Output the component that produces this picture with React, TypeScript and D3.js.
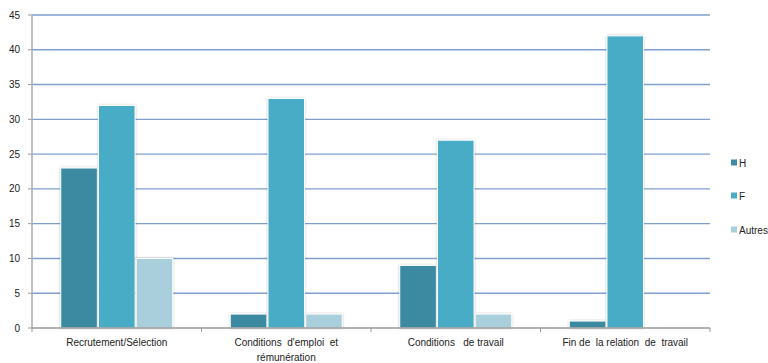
import React from "react";
import * as d3 from "d3";

const categories = [
  ["Recrutement/Sélection"],
  ["Conditions  d'emploi  et", "rémunération"],
  ["Conditions   de travail"],
  ["Fin de  la relation  de  travail"],
];
const seriesNames = ["H", "F", "Autres"];
const valuesH = [23, 2, 9, 1];
const valuesF = [32, 33, 27, 42];
const valuesAutres = [10, 2, 2, 0];
const yTicks = [0, 5, 10, 15, 20, 25, 30, 35, 40, 45];
const colors = ["#3a8aa2", "#4aacc6", "#a9cfdd"];

export default function App() {
  const W = 768, H = 363;
  const left = 32, right = 710, top = 15, bottom = 328;
  const series = [valuesH, valuesF, valuesAutres];
  const x = d3.scaleBand<number>().domain(d3.range(categories.length)).range([left, right]).paddingInner(0).paddingOuter(0);
  const bw = x.bandwidth();
  const inner = d3.scaleBand<number>().domain([0, 1, 2]).range([bw / 2 - 56, bw / 2 + 56]).paddingInner(0.03).paddingOuter(0);
  const y = d3.scaleLinear().domain([0, 45]).range([bottom, top]);
  const font = "Liberation Sans, Arial, sans-serif";
  return (
    <svg width={W} height={H} style={{ position: "absolute", left: 0, top: 0 }} fontFamily={font}>
      <defs>
        <filter id="sh" x="-20%" y="-20%" width="140%" height="140%">
          <feGaussianBlur in="SourceAlpha" stdDeviation="1.2" />
          <feOffset dx="0" dy="0" result="b" />
          <feComponentTransfer><feFuncA type="linear" slope="0.3" /></feComponentTransfer>
          <feMerge><feMergeNode /><feMergeNode in="SourceGraphic" /></feMerge>
        </filter>
      </defs>
      <rect width={W} height={H} fill="#fff" />
      {yTicks.map((t) => (
        <g key={t}>
          {t > 0 && <line x1={left} x2={right} y1={y(t)} y2={y(t)} stroke="#7f9fcf" strokeWidth={1.4} />}
          <line x1={left - 4} x2={left} y1={y(t)} y2={y(t)} stroke="#999" />
          <text x={left - 12} y={y(t)} dy="0.35em" textAnchor="end" fontSize={10} fill="#222">{t}</text>
        </g>
      ))}
      {categories.map((c, i) =>
        series.map((s, j) => {
          const v = s[i];
          if (v <= 0) return null;
          const bx = (x(i) as number) + (inner(j) as number);
          return (
            <rect key={`${i}-${j}`} x={bx} y={y(v)} width={inner.bandwidth()} height={bottom - y(v)}
              fill={colors[j]} stroke="#fff" strokeWidth={1} filter="url(#sh)" />
          );
        })
      )}
      <line x1={left} x2={left} y1={top} y2={bottom} stroke="#aaa" strokeWidth={1.5} />
      <line x1={left} x2={right} y1={bottom} y2={bottom} stroke="#999" strokeWidth={1.5} />
      {d3.range(categories.length + 1).map((i) => {
        const tx = left + i * bw;
        return <line key={i} x1={tx} x2={tx} y1={bottom} y2={bottom + 4} stroke="#999" />;
      })}
      {categories.map((c, i) => (
        <text key={i} x={(x(i) as number) + bw / 2} y={346} textAnchor="middle" fontSize={10} fill="#222" style={{ whiteSpace: "pre" }}>
          {c.map((line, k) => (
            <tspan key={k} x={(x(i) as number) + bw / 2} dy={k === 0 ? 0 : 15}>{line}</tspan>
          ))}
        </text>
      ))}
      {seriesNames.map((n, j) => {
        const ly = [163, 196, 230][j];
        return (
          <g key={n}>
            <rect x={731} y={ly - 3.5} width={6} height={6} fill={colors[j]} />
            <text x={739} y={ly} dy="0.35em" fontSize={10} fill="#222">{n}</text>
          </g>
        );
      })}
    </svg>
  );
}
